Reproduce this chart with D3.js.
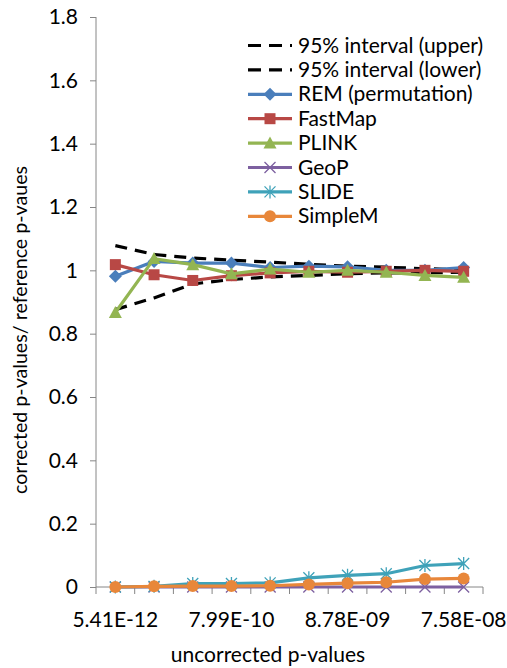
<!DOCTYPE html>
<html>
<head>
<meta charset="utf-8">
<script src="https://cdn.jsdelivr.net/npm/d3@7/dist/d3.min.js"></script>
<style>
  body { margin: 0; background: #fff; }
  svg text { font-family: Lato, "Noto Sans", sans-serif; fill: #000; }
</style>
</head>
<body>
<div id="chart"></div>
<script>
// x categories (only every third label is printed on the axis)
var categories = ['5.41E-12', '', '', '7.99E-10', '', '', '8.78E-09', '', '', '7.58E-08'];
var yTicks = [0, 0.2, 0.4, 0.6, 0.8, 1, 1.2, 1.4, 1.6, 1.8];

var upper = [1.078, 1.050, 1.039, 1.032, 1.026, 1.019, 1.013, 1.010, 1.005, 1.002];
var lower = [0.876, 0.913, 0.957, 0.971, 0.979, 0.984, 0.989, 0.992, 0.992, 0.994];
var rem = [0.981, 1.028, 1.023, 1.023, 1.009, 1.013, 1.011, 1.000, 1.000, 1.009];
var fastMap = [1.018, 0.986, 0.968, 0.983, 0.992, 0.997, 0.994, 0.997, 1.000, 0.997];
var plink = [0.867, 1.037, 1.018, 0.989, 1.004, 0.994, 1.000, 0.994, 0.984, 0.978];
var geoP = [0, 0, 0, 0, 0, 0, 0, 0, 0, 0];
var slide = [0, 0.002, 0.011, 0.011, 0.013, 0.029, 0.037, 0.042, 0.068, 0.074];
var simpleM = [0, 0.002, 0.003, 0.003, 0.004, 0.008, 0.012, 0.015, 0.025, 0.027];

var series = [
    { name: '95% interval (upper)', values: upper, color: '#000', dash: '12,8', marker: null },
    { name: '95% interval (lower)', values: lower, color: '#000', dash: '12,8', marker: null },
    { name: 'REM (permutation)', values: rem, color: '#4a7ebb', marker: 'diamond' },
    { name: 'FastMap', values: fastMap, color: '#b84845', marker: 'square' },
    { name: 'PLINK', values: plink, color: '#93b552', marker: 'triangle' },
    { name: 'GeoP', values: geoP, color: '#7d60a0', marker: 'x' },
    { name: 'SLIDE', values: slide, color: '#3fa2b9', marker: 'star' },
    { name: 'SimpleM', values: simpleM, color: '#e8873a', marker: 'circle' }
];

var chart_width = 507, chart_height = 668;
var plot_left = 96, plot_right = 483, plot_top = 17, plot_bottom = 587;
var font_size = 21;

var svg = d3.select('#chart').append('svg')
    .attr('width', chart_width)
    .attr('height', chart_height);

var x = d3.scaleBand()
    .domain(d3.range(categories.length))
    .range([plot_left, plot_right]);
var y = d3.scaleLinear()
    .domain([0, 1.8])
    .range([plot_bottom, plot_top]);

var cx = function (i) { return x(i) + x.bandwidth() / 2; };

// y axis
var yAxis = svg.append('g')
    .attr('transform', 'translate(' + plot_left + ',0)')
    .call(d3.axisLeft(y).tickValues(yTicks).tickSize(6).tickPadding(12).tickFormat(d3.format('~g')));
yAxis.selectAll('path, line').attr('stroke', '#868686');
yAxis.select('.domain').attr('d', 'M0,' + plot_top + 'V' + plot_bottom);
yAxis.selectAll('text').attr('font-size', font_size).attr('font-family', 'Lato, sans-serif').attr('fill', '#000');

// x axis, ticks on the category boundaries
var xAxis = svg.append('g')
    .attr('transform', 'translate(0,' + plot_bottom + ')');
xAxis.append('line')
    .attr('x1', plot_left).attr('x2', plot_right)
    .attr('stroke', '#868686');
xAxis.selectAll('.tick')
    .data(d3.range(categories.length + 1))
    .enter().append('line')
    .attr('x1', function (d) { return plot_left + d * x.bandwidth(); })
    .attr('x2', function (d) { return plot_left + d * x.bandwidth(); })
    .attr('y1', 0).attr('y2', 7)
    .attr('stroke', '#868686');
xAxis.selectAll('.lbl')
    .data(categories)
    .enter().append('text')
    .attr('x', function (d, i) { return cx(i); })
    .attr('y', 40)
    .attr('text-anchor', 'middle')
    .attr('font-size', font_size)
    .text(function (d) { return d; });

// axis titles
svg.append('text')
    .attr('x', 268).attr('y', 662)
    .attr('text-anchor', 'middle')
    .attr('font-size', font_size)
    .text('uncorrected p-values');

svg.append('text')
    .attr('transform', 'translate(27,330) rotate(-90)')
    .attr('text-anchor', 'middle')
    .attr('font-size', 19)
    .attr('textLength', 328)
    .attr('lengthAdjust', 'spacingAndGlyphs')
    .text('corrected p-values/ reference p-vaues');

var drawMarker = function (g, type, color, px, py) {
    if (type === 'diamond') {
        g.append('path').attr('d', 'M' + px + ',' + (py - 6.5) + 'L' + (px + 6.5) + ',' + py + 'L' + px + ',' + (py + 6.5) + 'L' + (px - 6.5) + ',' + py + 'Z')
            .attr('fill', color);
    } else if (type === 'square') {
        g.append('rect').attr('x', px - 5.5).attr('y', py - 5.5).attr('width', 11).attr('height', 11)
            .attr('fill', color);
    } else if (type === 'triangle') {
        g.append('path').attr('d', 'M' + px + ',' + (py - 6.5) + 'L' + (px + 6.5) + ',' + (py + 5.5) + 'L' + (px - 6.5) + ',' + (py + 5.5) + 'Z')
            .attr('fill', color);
    } else if (type === 'circle') {
        g.append('circle').attr('cx', px).attr('cy', py).attr('r', 6).attr('fill', color);
    } else if (type === 'x') {
        g.append('path').attr('d', 'M' + (px - 5.5) + ',' + (py - 5.5) + 'L' + (px + 5.5) + ',' + (py + 5.5) + 'M' + (px + 5.5) + ',' + (py - 5.5) + 'L' + (px - 5.5) + ',' + (py + 5.5))
            .attr('stroke', color).attr('stroke-width', 1.3).attr('fill', 'none');
    } else if (type === 'star') {
        g.append('path').attr('d', 'M' + (px - 5.5) + ',' + (py - 5.5) + 'L' + (px + 5.5) + ',' + (py + 5.5) + 'M' + (px + 5.5) + ',' + (py - 5.5) + 'L' + (px - 5.5) + ',' + (py + 5.5) +
            'M' + px + ',' + (py - 6.5) + 'L' + px + ',' + (py + 6.5))
            .attr('stroke', color).attr('stroke-width', 1.3).attr('fill', 'none');
    }
};

var line = d3.line()
    .x(function (d, i) { return cx(i); })
    .y(function (d) { return y(d); });

var plot = svg.append('g');
series.forEach(function (s) {
    var g = plot.append('g');
    g.append('path')
        .attr('d', line(s.values))
        .attr('fill', 'none')
        .attr('stroke', s.color)
        .attr('stroke-width', 3.2)
        .attr('stroke-dasharray', s.dash || null);
    if (s.marker) {
        s.values.forEach(function (v, i) {
            drawMarker(g, s.marker, s.color, cx(i), y(v));
        });
    }
});

// legend
var legend = svg.append('g');
series.forEach(function (s, i) {
    var ly = 45.5 + i * 24.4;
    var row = legend.append('g');
    row.append('line')
        .attr('x1', 248).attr('x2', 292)
        .attr('y1', ly).attr('y2', ly)
        .attr('stroke', s.color)
        .attr('stroke-width', 3.2)
        .attr('stroke-dasharray', s.dash ? '13,8' : null);
    if (s.marker) drawMarker(row, s.marker, s.color, 270, ly);
    row.append('text')
        .attr('x', 298).attr('y', ly + 7)
        .attr('font-size', font_size)
        .text(s.name);
});
</script>
</body>
</html>
